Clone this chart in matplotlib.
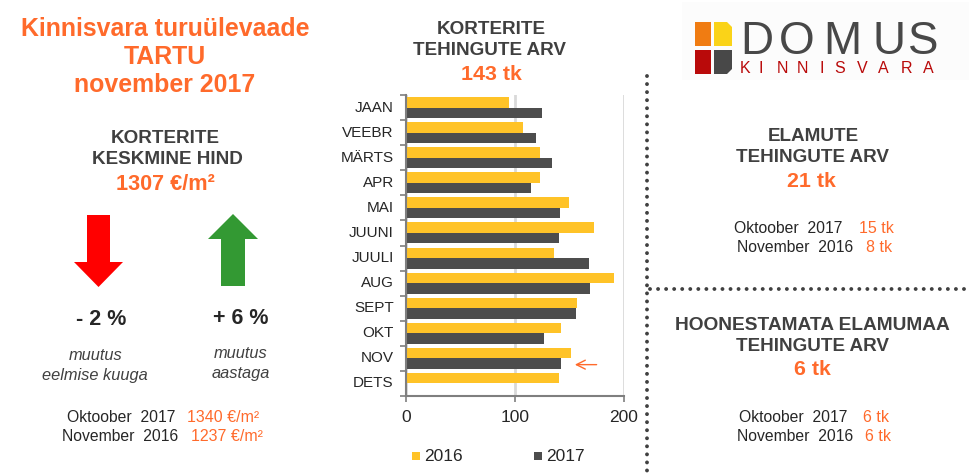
import matplotlib
matplotlib.use("Agg")
import matplotlib.pyplot as plt
import numpy as np
from matplotlib.patches import Polygon, Rectangle

plt.rcParams["font.family"] = ["Liberation Sans", "DejaVu Sans"]

months = ["JAAN", "VEEBR", "MÄRTS", "APR", "MAI", "JUUNI", "JUULI", "AUG", "SEPT", "OKT", "NOV", "DETS"]
sales_2016 = [94, 107, 123, 123, 150, 173, 136, 191, 157, 142, 151, 140]
sales_2017 = [125, 119, 134, 115, 141, 140, 168, 169, 156, 127, 142, np.nan]
x_ticks = [0, 100, 200]

ORANGE = "#ff6a2b"
DARK = "#404040"
YELLOW = "#ffc328"
BAR_DARK = "#4d4d4d"
W, H = 969, 475

fig = plt.figure(figsize=(W / 100, H / 100), dpi=100)

# overlay in pixel coordinates for the infographic parts
bg = fig.add_axes([0, 0, 1, 1])
bg.set_xlim(0, W)
bg.set_ylim(H, 0)
bg.axis("off")


def label(x, y, s, size=11, color=DARK, weight="normal", style="normal", ha="center"):
    # va=center sits a bit high for these fonts
    bg.text(x, y + 1.5, s, fontsize=size, color=color, fontweight=weight, fontstyle=style,
            ha=ha, va="center")


# title
label(165, 28, "Kinnisvara turuülevaade", 17.9, ORANGE, "bold")
label(165, 56, "TARTU", 17.9, ORANGE, "bold")
label(165, 84, "november 2017", 17.9, ORANGE, "bold")

# average price
label(165, 137, "KORTERITE", 13.6, DARK, "bold")
label(167, 158, "KESKMINE HIND", 13.6, DARK, "bold")
label(165, 183, "1307 €/m²", 15.6, ORANGE, "bold")

bg.add_patch(Polygon([(87, 215), (110, 215), (110, 262), (123, 262), (98.5, 287), (74, 262), (87, 262)],
                     color="#ff0000", lw=0))
bg.add_patch(Polygon([(221, 286), (245, 286), (245, 239), (258, 239), (233, 214), (208, 239), (221, 239)],
                     color="#339933", lw=0))

label(101, 318, "- 2 %", 15.5, "#262626", "bold")
label(241, 317, "+ 6 %", 15.5, "#262626", "bold")
label(96, 354, "muutus", 11.8, DARK, style="italic")
label(95, 374, "eelmise kuuga", 11.8, DARK, style="italic")
label(241, 352, "muutus", 11.8, DARK, style="italic")
label(241, 372, "aastaga", 11.8, DARK, style="italic")

label(67, 416, "Oktoober  2017", 11.3, "#262626", ha="left")
label(187, 416, "1340 €/m²", 11.5, ORANGE, ha="left")
label(62, 435, "November  2016", 11.3, "#262626", ha="left")
label(191, 435, "1237 €/m²", 11.5, ORANGE, ha="left")

# chart heading
label(491, 28, "KORTERITE", 13.6, DARK, "bold")
label(490, 49, "TEHINGUTE ARV", 13.6, DARK, "bold")
label(491, 73, "143 tk", 15.4, ORANGE, "bold")

# logo
bg.add_patch(Rectangle((682, 2), 287, 78, color="#fcfcfc", lw=0))
bg.add_patch(Rectangle((695, 22), 16, 24, color="#f07c12", lw=0))
bg.add_patch(Polygon([(714, 22), (727, 22), (732, 27), (732, 46), (714, 46)], color="#fad318", lw=0))
bg.add_patch(Rectangle((695, 50), 16, 24, color="#b90a0a", lw=0))
bg.add_patch(Polygon([(714, 50), (732, 50), (732, 69), (727, 74), (714, 74)], color="#484848", lw=0))
for ch, x in zip("DOMUS", [757, 797, 842, 889, 923]):
    label(x, 40, ch, 33, "#484848")
for ch, x in zip("KINNISVARA", [745, 761, 782, 802, 822, 840, 862, 883, 907, 928]):
    label(x, 67, ch, 11.5, "#b90a0a")

# dotted separators
bg.plot([647, 647], [76, 475], color=DARK, lw=2.8, ls=(0, (0.01, 2.06)), dash_capstyle="round")
bg.plot([650, 969], [288.5, 288.5], color=DARK, lw=2.8, ls=(0, (0.01, 2.06)), dash_capstyle="round")

# right panels
label(813, 135, "ELAMUTE", 13.6, DARK, "bold")
label(813, 156, "TEHINGUTE ARV", 13.6, DARK, "bold")
label(811, 180, "21 tk", 15.4, ORANGE, "bold")
label(734, 227, "Oktoober  2017", 11.3, "#262626", ha="left")
label(859, 227, "15 tk", 11.5, ORANGE, ha="left")
label(737, 246, "November  2016", 11.3, "#262626", ha="left")
label(866, 246, "8 tk", 11.5, ORANGE, ha="left")

label(812, 324, "HOONESTAMATA ELAMUMAA", 13.8, DARK, "bold")
label(813, 345, "TEHINGUTE ARV", 13.6, DARK, "bold")
label(812, 368, "6 tk", 15.4, ORANGE, "bold")
label(739, 416, "Oktoober  2017", 11.3, "#262626", ha="left")
label(863, 416, "6 tk", 11.5, ORANGE, ha="left")
label(737, 435, "November  2016", 11.3, "#262626", ha="left")
label(865, 435, "6 tk", 11.5, ORANGE, ha="left")

# bar chart
left, right, top, bottom = 406.3, 623.8, 95, 396
ax = fig.add_axes([left / W, 1 - bottom / H, (right - left) / W, (bottom - top) / H])
ax.patch.set_alpha(0)
y = np.arange(len(months))
ax.barh(y - 0.21, sales_2016, height=0.42, color=YELLOW, label="2016", zorder=2)
ax.barh(y + 0.21, sales_2017, height=0.42, color=BAR_DARK, label="2017", zorder=2)
ax.set_xlim(0, 200)
ax.set_ylim(len(months) - 0.5, -0.5)
ax.set_xticks(x_ticks)
ax.set_yticks(np.arange(len(months) + 1) - 0.5, minor=False)
ax.set_yticklabels([])
ax.tick_params(axis="y", length=4, width=1.2, color="#7f7f7f", direction="out")
ax.tick_params(axis="x", length=4, width=1.2, color="#7f7f7f", labelsize=12.5, labelcolor="#262626", pad=6)
for i, m in enumerate(months):
    ax.annotate(m, (0, i), xycoords=("data", "data"), xytext=(-9, 0), textcoords="offset points",
                ha="right", va="center", fontsize=11, color="#262626")
ax.grid(axis="x", color="#d9d9d9", lw=2, zorder=0)
ax.set_axisbelow(True)
for side in ["top", "right"]:
    ax.spines[side].set_visible(False)
ax.spines["left"].set_color("#7f7f7f")
ax.spines["bottom"].set_color("#7f7f7f")
ax.spines["left"].set_linewidth(1.5)
ax.spines["bottom"].set_linewidth(1.5)

# current month marker
ax.annotate("", xy=(155, 10.25), xytext=(175, 10.25),
            arrowprops=dict(arrowstyle="->", color=ORANGE, lw=1, mutation_scale=16, shrinkA=0, shrinkB=0))

# legend
bg.add_patch(Rectangle((412, 452), 8, 8, color=YELLOW, lw=0))
label(424, 455, "2016", 12.5, "#262626", ha="left")
bg.add_patch(Rectangle((534, 452), 8, 8, color=BAR_DARK, lw=0))
label(546, 455, "2017", 12.5, "#262626", ha="left")

fig.savefig("out.png", dpi=100)
